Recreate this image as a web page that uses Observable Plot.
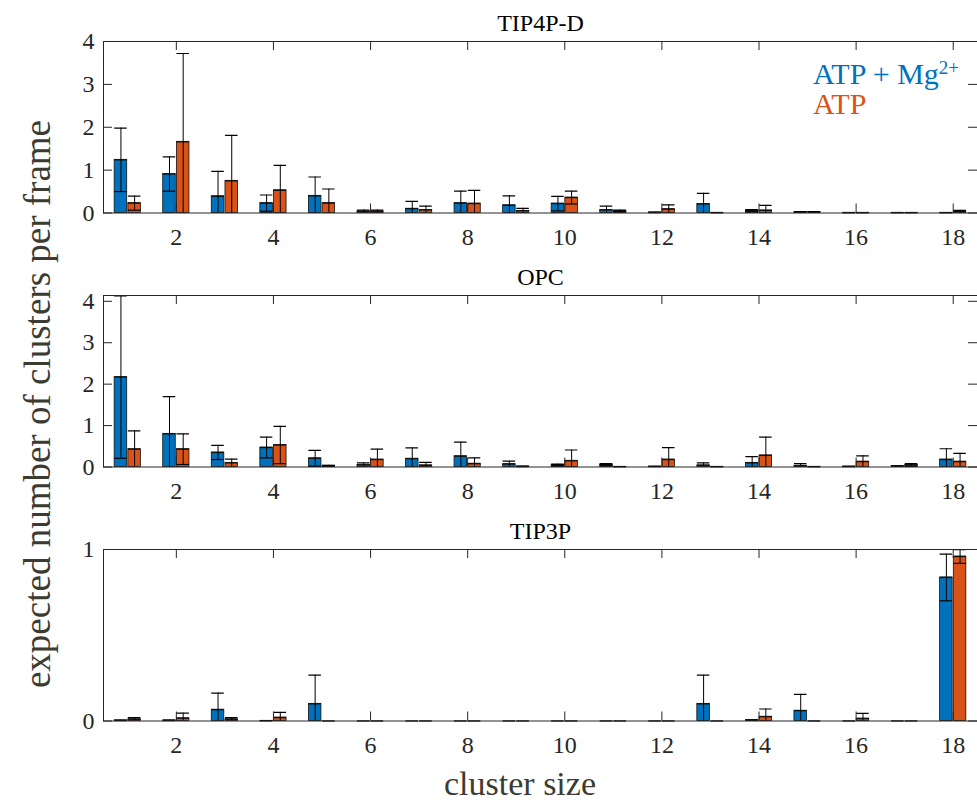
<!DOCTYPE html>
<html><head><meta charset="utf-8">
<script src="https://cdn.jsdelivr.net/npm/d3@7"></script>
<script src="https://cdn.jsdelivr.net/npm/@observablehq/plot@0.6"></script>
<style>
body{margin:0;background:#fff;}
#chart{position:relative;width:977px;height:805px;font-family:"Liberation Serif",serif;overflow:hidden;background:#fff}
#chart svg{position:absolute;left:0;font-family:"Liberation Serif",serif !important;}
#chart svg text{font-family:"Liberation Serif",serif !important;}
.lab{position:absolute;white-space:nowrap;font-family:"Liberation Serif",serif;}
</style></head><body><div id="chart"></div>
<script>
const sizes = [1,2,3,4,5,6,7,8,9,10,11,12,13,14,15,16,17,18];
const xTicks = [2,4,6,8,10,12,14,16,18];
const seriesNames = ["ATP + Mg2+", "ATP"];
const seriesColors = ["#0072BD", "#D95319"];
const panelTitles = ["TIP4P-D", "OPC", "TIP3P"];
const yMaxes = [4, 4.14, 1];
const yTickSets = [[0,1,2,3,4],[0,1,2,3,4],[0,1]];

const tip4pdMg     = [1.24,0.91,0.39,0.23,0.40,0.04,0.10,0.23,0.18,0.22,0.07,0.01,0.21,0.06,0.02,0.005,0.005,0.005];
const tip4pdMgErr  = [0.74,0.40,0.58,0.19,0.44,0.03,0.17,0.28,0.22,0.17,0.09,0.01,0.25,0.02,0.01,0.005,0.005,0.005];
const tip4pdAtp    = [0.23,1.66,0.75,0.53,0.23,0.04,0.07,0.22,0.05,0.36,0.05,0.09,0.005,0.06,0.02,0.005,0.005,0.03];
const tip4pdAtpErr = [0.165,2.06,1.06,0.58,0.33,0.03,0.09,0.31,0.06,0.15,0.02,0.10,0.005,0.12,0.01,0.005,0.005,0.03];

const opcMg     = [2.17,0.80,0.35,0.47,0.21,0.05,0.20,0.26,0.07,0.05,0.06,0.01,0.04,0.10,0.03,0.01,0.02,0.18];
const opcMgErr  = [1.96,0.90,0.17,0.25,0.19,0.05,0.26,0.34,0.07,0.02,0.02,0.005,0.06,0.15,0.05,0.005,0.01,0.26];
const opcAtp    = [0.43,0.43,0.10,0.53,0.03,0.18,0.04,0.08,0.01,0.15,0.005,0.18,0.005,0.28,0.005,0.13,0.05,0.13];
const opcAtpErr = [0.44,0.37,0.09,0.45,0.01,0.25,0.07,0.14,0.01,0.26,0.005,0.29,0.005,0.44,0.005,0.14,0.03,0.20];

const tip3pMg     = [0.003,0.003,0.066,0.001,0.10,0,0,0,0,0,0,0,0.10,0.004,0.06,0,0,0.837];
const tip3pMgErr  = [0.002,0.002,0.097,0.001,0.167,0,0,0,0,0,0,0,0.167,0.002,0.095,0,0,0.136];
const tip3pAtp    = [0.01,0.016,0.01,0.02,0,0,0,0,0,0,0,0,0,0.025,0,0.014,0,0.959];
const tip3pAtpErr = [0.01,0.03,0.01,0.03,0,0,0,0,0,0,0,0,0,0.045,0,0.03,0,0.04];

const W = 977, ML = 103, MR = 0, MT = 41, FH = 171.5, MB = 45;
const PW = W - ML - MR;
const frameTops = [41, 295, 549];
const chart = document.getElementById("chart");

function panel(title, yMax, yTicks, mg, mgErr, atp, atpErr) {
  const rows = [];
  sizes.forEach((s, i) => {
    rows.push({s, k: 0, v: mg[i], e: mgErr[i]});
    rows.push({s, k: 1, v: atp[i], e: atpErr[i]});
  });
  const L = d => d.s + (d.k === 0 ? -0.27 : 0.012);
  const R = d => d.s + (d.k === 0 ? -0.012 : 0.27);
  const C = d => (L(d) + R(d)) / 2;
  const T = 9;
  return Plot.plot({
    width: W, height: MT + FH + MB,
    marginLeft: ML, marginRight: MR, marginTop: MT, marginBottom: MB,
    x: {domain: [0.5, 18.5]},
    y: {domain: [0, yMax]},
    style: "font-family:'Liberation Serif',serif;background:transparent;color:#262626;",
    marks: [
      Plot.rect(rows, {x1: L, x2: R, y1: 0, y2: "v", fill: d => seriesColors[d.k], stroke: "#111", strokeWidth: 0.8}),
      Plot.ruleY(rows, {y: "v", x1: L, x2: R, stroke: "#111", strokeWidth: 1.3}),
      Plot.ruleX(rows, {x: C, y1: d => d.v - d.e, y2: d => d.v + d.e, stroke: "#000", strokeWidth: 1, clip: true}),
      Plot.ruleY(rows, {y: d => d.v + d.e, x1: L, x2: R, stroke: "#000", strokeWidth: 1.2, clip: true}),
      Plot.ruleY(rows.filter(d => d.v - d.e > 0.015), {y: d => d.v - d.e, x1: L, x2: R, stroke: "#000", strokeWidth: 1.2}),
      Plot.ruleX(xTicks, {x: d => d, insetBottom: FH - T, stroke: "#262626"}),
      Plot.ruleX(xTicks, {x: d => d, insetTop: FH - T, stroke: "#262626"}),
      Plot.ruleY(yTicks, {y: d => d, insetRight: PW - T, stroke: "#262626"}),
      Plot.ruleY(yTicks, {y: d => d, insetLeft: PW - T, stroke: "#262626"}),
      Plot.frame({stroke: "#262626", strokeWidth: 1}),
      Plot.axisX(xTicks, {tickSize: 0, tickPadding: 15, fontSize: 24, label: null, tickFormat: d => String(d)}),
      Plot.axisY(yTicks, {tickSize: 0, tickPadding: 9, fontSize: 24, label: null, tickFormat: d => String(d)}),
      Plot.text([title], {frameAnchor: "top", dy: -11, lineAnchor: "bottom", fontSize: 24, fill: "#000"})
    ]
  });
}

const data = [
  [tip4pdMg, tip4pdMgErr, tip4pdAtp, tip4pdAtpErr],
  [opcMg, opcMgErr, opcAtp, opcAtpErr],
  [tip3pMg, tip3pMgErr, tip3pAtp, tip3pAtpErr]
];
data.forEach((d, i) => {
  const svg = panel(panelTitles[i], yMaxes[i], yTickSets[i], ...d);
  svg.style.top = (frameTops[i] - MT) + "px";
  svg.style.position = "absolute";
  chart.appendChild(svg);
});

// axis titles
const yl = document.createElement("div");
yl.className = "lab";
yl.textContent = "expected number of clusters per frame";
yl.style.cssText += "font-size:37px;line-height:40px;color:#3b3b32;left:38px;top:404px;transform:translate(-50%,-50%) rotate(-90deg);";
chart.appendChild(yl);

const xl = document.createElement("div");
xl.className = "lab";
xl.textContent = "cluster size";
xl.style.cssText += "font-size:34px;line-height:28px;color:#3b3b32;left:520px;top:770px;transform:translateX(-50%);";
chart.appendChild(xl);

// legend
seriesNames.forEach((name, i) => {
  const el = document.createElement("div");
  el.className = "lab";
  const m = name.match(/^(.*?)(\d\+)$/);
  el.innerHTML = m ? m[1] + '<span style="font-size:19px;vertical-align:0.5em">' + m[2] + '</span>' : name;
  el.style.cssText += "font-size:30px;line-height:30px;left:813px;top:" + (53 + 36 * i) + "px;color:" + seriesColors[i] + ";";
  chart.appendChild(el);
});
</script></body></html>
